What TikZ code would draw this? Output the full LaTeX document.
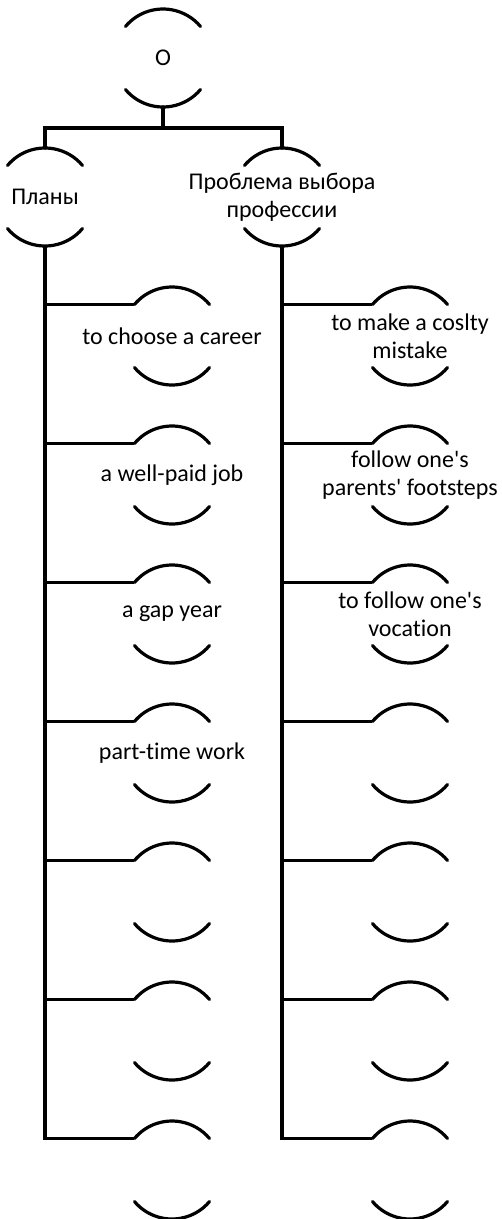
\documentclass[tikz,border=0pt]{standalone}
\usepackage{fontspec}
\newfontfamily\cf{Carlito}[Ligatures={NoCommon}]
\begin{document}
\begin{tikzpicture}[x=1pt,y=1pt,
  ln/.style={line width=3.2pt,line cap=round,line join=miter},
  item/.style={inner sep=0pt,align=center,font=\cf\fontsize{24}{28}\selectfont}]
\useasboundingbox (0,0) rectangle (501,-1219);
\newcommand\arcs[1]{%
  \draw[ln] ([shift={(140:49)}]#1.center) arc[start angle=140,end angle=40,radius=49];
  \draw[ln] ([shift={(220:49)}]#1.center) arc[start angle=220,end angle=320,radius=49];}
\node[item] (O) at (163,-58) {O};
\node[item] (plan) at (45,-197) {Планы};
\node[item] (prob) at (282,-197) {Проблема выбора\\профессии};
\arcs{O}\arcs{plan}\arcs{prob}
\coordinate (Obot) at ([yshift=-49]O.center);
\coordinate (bar) at ([yshift=-70]O.center);
\draw[ln] (Obot) -- (bar) -| ([yshift=49]plan.center);
\draw[ln] (bar) -| ([yshift=49]prob.center);
\foreach \k/\t in {0/to choose a career,1/a well-paid job,2/a gap year,3/part-time work,4/,5/,6/}{
  \node[item] (L\k) at (172,-336-139*\k) {\t};
  \arcs{L\k}
  \coordinate (L\k l) at ([shift={(140:49)}]L\k.center);
}
\foreach \k/\t in {0/to make a coslty\\mistake,1/follow one's\\parents' footsteps,2/to follow one's\\vocation,3/,4/,5/,6/}{
  \node[item] (R\k) at (410,-336-139*\k) {\t};
  \arcs{R\k}
  \coordinate (R\k l) at ([shift={(140:49)}]R\k.center);
}
\draw[ln,line cap=butt] ([yshift=-49]plan.center) |- (L6l);
\draw[ln,line cap=butt] ([yshift=-49]prob.center) |- (R6l);
\foreach \k in {0,...,5}{
  \draw[ln,line cap=butt] (L\k l -| plan.center) -- (L\k l);
  \draw[ln,line cap=butt] (R\k l -| prob.center) -- (R\k l);
}
\end{tikzpicture}
\end{document}
